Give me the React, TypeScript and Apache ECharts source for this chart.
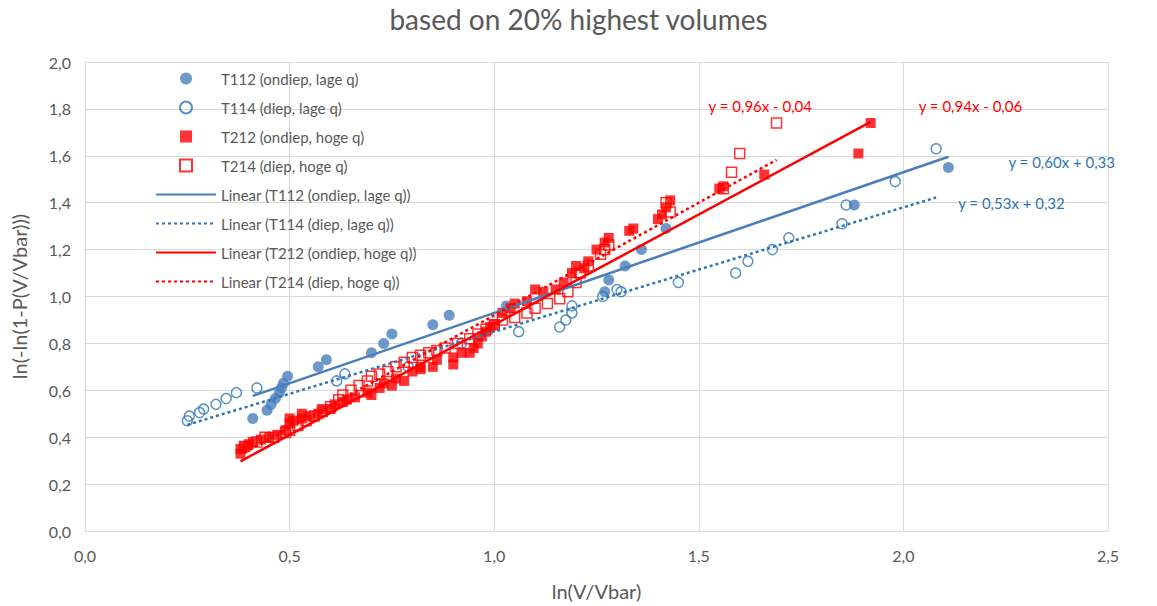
import React, { useEffect, useRef } from "react";
import * as echarts from "echarts";

const title = "based on 20% highest volumes";
const xAxisName = "ln(V/Vbar)";
const yAxisName = "ln(-ln(1-P(V/Vbar)))";

const seriesNames = [
  "T112 (ondiep, lage q)",
  "T114 (diep, lage q)",
  "T212 (ondiep, hoge q)",
  "T214 (diep, hoge q)",
];

const t112: number[][] = [
  [0.41, 0.48], [0.445, 0.515], [0.455, 0.54], [0.465, 0.565], [0.475, 0.59], [0.48, 0.61],
  [0.485, 0.63], [0.495, 0.66], [0.57, 0.7], [0.59, 0.73], [0.7, 0.76], [0.73, 0.8],
  [0.75, 0.84], [0.85, 0.88], [0.89, 0.92], [1.03, 0.96], [1.27, 1.02], [1.28, 1.07],
  [1.32, 1.13], [1.36, 1.2], [1.42, 1.29], [1.88, 1.39], [2.11, 1.55],
];

const t114: number[][] = [
  [0.25, 0.47], [0.255, 0.49], [0.28, 0.505], [0.29, 0.52], [0.32, 0.54], [0.345, 0.565],
  [0.37, 0.59], [0.42, 0.61], [0.615, 0.64], [0.635, 0.67], [0.79, 0.7], [0.92, 0.8],
  [1.06, 0.85], [1.16, 0.87], [1.175, 0.9], [1.19, 0.93], [1.19, 0.96], [1.265, 1.0],
  [1.3, 1.03], [1.31, 1.02], [1.45, 1.06], [1.59, 1.1], [1.62, 1.15], [1.68, 1.2],
  [1.72, 1.25], [1.85, 1.31], [1.86, 1.39], [1.98, 1.49], [2.08, 1.63],
];

const t212: number[][] = [
  [0.38, 0.33], [0.38, 0.35], [0.39, 0.36], [0.4, 0.37], [0.41, 0.38], [0.43, 0.39],
  [0.45, 0.4], [0.47, 0.41], [0.49, 0.43], [0.5, 0.46], [0.5, 0.48], [0.51, 0.47],
  [0.53, 0.48], [0.53, 0.5], [0.55, 0.49], [0.57, 0.5], [0.58, 0.52], [0.6, 0.52],
  [0.61, 0.54], [0.63, 0.55], [0.64, 0.56], [0.66, 0.57], [0.69, 0.59], [0.7, 0.58],
  [0.72, 0.61], [0.73, 0.63], [0.75, 0.62], [0.76, 0.65], [0.78, 0.64], [0.8, 0.68],
  [0.82, 0.69], [0.82, 0.7], [0.85, 0.7], [0.86, 0.73], [0.9, 0.71], [0.9, 0.74],
  [0.92, 0.76], [0.94, 0.76], [0.95, 0.78], [0.96, 0.8], [0.97, 0.83], [0.98, 0.85],
  [0.99, 0.87], [1.0, 0.88], [1.02, 0.93], [1.04, 0.95], [1.05, 0.97], [1.08, 0.98],
  [1.1, 1.03], [1.12, 1.02], [1.15, 1.03], [1.17, 1.06], [1.19, 1.1], [1.2, 1.13],
  [1.22, 1.12], [1.23, 1.15], [1.25, 1.2], [1.27, 1.23], [1.28, 1.25], [1.33, 1.28],
  [1.34, 1.29], [1.4, 1.33], [1.41, 1.35], [1.42, 1.38], [1.43, 1.41], [1.55, 1.46],
  [1.56, 1.47], [1.66, 1.52], [1.89, 1.61], [1.92, 1.74],
];

const t214: number[][] = [
  [0.39, 0.36], [0.42, 0.38], [0.44, 0.4], [0.46, 0.4], [0.49, 0.42], [0.5, 0.43],
  [0.52, 0.45], [0.54, 0.47], [0.56, 0.49], [0.58, 0.51], [0.6, 0.53], [0.62, 0.56],
  [0.63, 0.58], [0.65, 0.6], [0.67, 0.62], [0.69, 0.64], [0.7, 0.66], [0.72, 0.67],
  [0.74, 0.68], [0.76, 0.7], [0.78, 0.72], [0.8, 0.74], [0.82, 0.75], [0.84, 0.76],
  [0.86, 0.77], [0.88, 0.78], [0.91, 0.8], [0.94, 0.82], [0.96, 0.84], [0.98, 0.86],
  [1.0, 0.88], [1.02, 0.9], [1.05, 0.91], [1.08, 0.93], [1.1, 0.95], [1.13, 0.97],
  [1.16, 0.99], [1.18, 1.02], [1.2, 1.06], [1.21, 1.1], [1.23, 1.13], [1.26, 1.18],
  [1.27, 1.2], [1.28, 1.22], [1.42, 1.4], [1.43, 1.36], [1.56, 1.46], [1.58, 1.53],
  [1.6, 1.61], [1.69, 1.74],
];

// Trendline coefficients [slope, intercept] as shown in the reference
const trendCoefs: number[][] = [
  [0.6, 0.33],
  [0.53, 0.32],
  [0.94, -0.06],
  [0.96, -0.04],
];
const trendLabels = [
  "y = 0,60x + 0,33",
  "y = 0,53x + 0,32",
  "y = 0,94x - 0,06",
  "y = 0,96x - 0,04",
];

const xTicks = { min: 0, max: 2.5, interval: 0.5 };
const yTicks = { min: 0, max: 2.0, interval: 0.2 };

const FONT = "Lato, 'Open Sans', sans-serif";
const BLUE_DARK = "#4a7ebb";
const BLUE = "#2e75b6";
const RED = "#ff0000";
const GREY = "#595959";
const SQUARE = "path://M0,0L10,0L10,10L0,10Z";

function trendLine(data: number[][], coef: number[]): number[][] {
  const xs = data.map((d) => d[0]);
  const lo = Math.min(...xs);
  const hi = Math.max(...xs);
  return [lo, hi].map((x) => [x, coef[0] * x + coef[1]]);
}

const fmt = (v: number) => v.toFixed(1).replace(".", ",");

export default function App() {
  const ref = useRef<HTMLDivElement>(null);
  useEffect(() => {
    if (!ref.current) return;
    const chart = echarts.init(ref.current, undefined, { renderer: "svg" });
    const datasets = [t112, t114, t212, t214];
    const trendColors = [BLUE_DARK, BLUE, RED, RED];
    const trendTypes: any[] = ["solid", [3, 3], "solid", [3, 3]];
    const labelOffsets = [
      [60, 5],
      [22, 6],
      [48, -16],
      [-68, -54],
    ];
    const scatterStyles: any[] = [
      { symbol: "circle", size: 11, itemStyle: { color: BLUE_DARK } },
      {
        symbol: "circle",
        size: 10,
        itemStyle: { color: "rgba(255,255,255,0)", borderColor: BLUE, borderWidth: 1.5 },
      },
      { symbol: SQUARE, size: 10, itemStyle: { color: RED } },
      {
        symbol: SQUARE,
        size: 10,
        itemStyle: { color: "rgba(255,255,255,0)", borderColor: RED, borderWidth: 1.5 },
      },
    ];
    const scatterSeries = datasets.map((d, i) => ({
      name: seriesNames[i],
      type: "scatter",
      data: d,
      symbol: scatterStyles[i].symbol,
      symbolSize: scatterStyles[i].size,
      itemStyle: scatterStyles[i].itemStyle,
      z: 2 + i,
    }));
    const lineSeries = datasets.map((d, i) => ({
      name: "Linear (" + seriesNames[i] + ")",
      type: "line",
      data: trendLine(d, trendCoefs[i]),
      symbol: "none",
      showSymbol: false,
      lineStyle: { color: trendColors[i], width: 2.5, type: trendTypes[i], cap: "butt" },
      itemStyle: { color: trendColors[i] },
      z: 10,
      endLabel: {
        show: true,
        formatter: () => trendLabels[i],
        color: i < 2 ? BLUE : RED,
        fontFamily: FONT,
        fontSize: 15,
        distance: 0,
        offset: labelOffsets[i],
        align: "left",
      },
    }));
    const legendScatterIcons = ["circle", "circle", SQUARE, SQUARE];
    chart.setOption({
      animation: false,
      backgroundColor: "#ffffff",
      textStyle: { fontFamily: FONT },
      title: {
        text: title,
        left: "center",
        top: 0,
        textStyle: { fontFamily: FONT, fontSize: 28, fontWeight: "normal", color: GREY },
      },
      legend: {
        orient: "vertical",
        left: 150,
        top: 66,
        itemWidth: 60,
        itemHeight: 12,
        itemGap: 14,
        itemTextGap: 6,
        symbolKeepAspect: true,
        textStyle: { fontFamily: FONT, fontSize: 15, color: GREY },
        data: [
          ...seriesNames.map((n, i) => ({ name: n, icon: legendScatterIcons[i] })),
          ...seriesNames.map((n) => ({
            name: "Linear (" + n + ")",
            itemStyle: { color: "rgba(0,0,0,0)", borderWidth: 0, opacity: 0 },
          })),
        ],
      },
      grid: { left: 85, right: 49, top: 62, bottom: 74, containLabel: false },
      xAxis: {
        type: "value",
        min: xTicks.min,
        max: xTicks.max,
        interval: xTicks.interval,
        name: xAxisName,
        nameLocation: "middle",
        nameGap: 50,
        nameTextStyle: { fontFamily: FONT, fontSize: 20, color: GREY },
        axisLine: { show: false },
        axisTick: { show: false },
        axisLabel: { formatter: fmt, fontFamily: FONT, fontSize: 16, color: GREY, margin: 16 },
        splitLine: { show: true, lineStyle: { color: "#d9d9d9", width: 1 } },
      },
      yAxis: {
        type: "value",
        min: yTicks.min,
        max: yTicks.max,
        interval: yTicks.interval,
        name: yAxisName,
        nameLocation: "middle",
        nameGap: 56,
        nameTextStyle: { fontFamily: FONT, fontSize: 20, color: GREY },
        axisLine: { show: false },
        axisTick: { show: false },
        axisLabel: { formatter: fmt, fontFamily: FONT, fontSize: 16, color: GREY, margin: 14 },
        splitLine: { show: true, lineStyle: { color: "#d9d9d9", width: 1 } },
      },
      series: [...scatterSeries, ...lineSeries],
    });
    return () => chart.dispose();
  }, []);
  return (
    <div
      ref={ref}
      style={{ position: "fixed", left: 0, top: 0, width: 1157, height: 606, background: "#fff" }}
    />
  );
}
